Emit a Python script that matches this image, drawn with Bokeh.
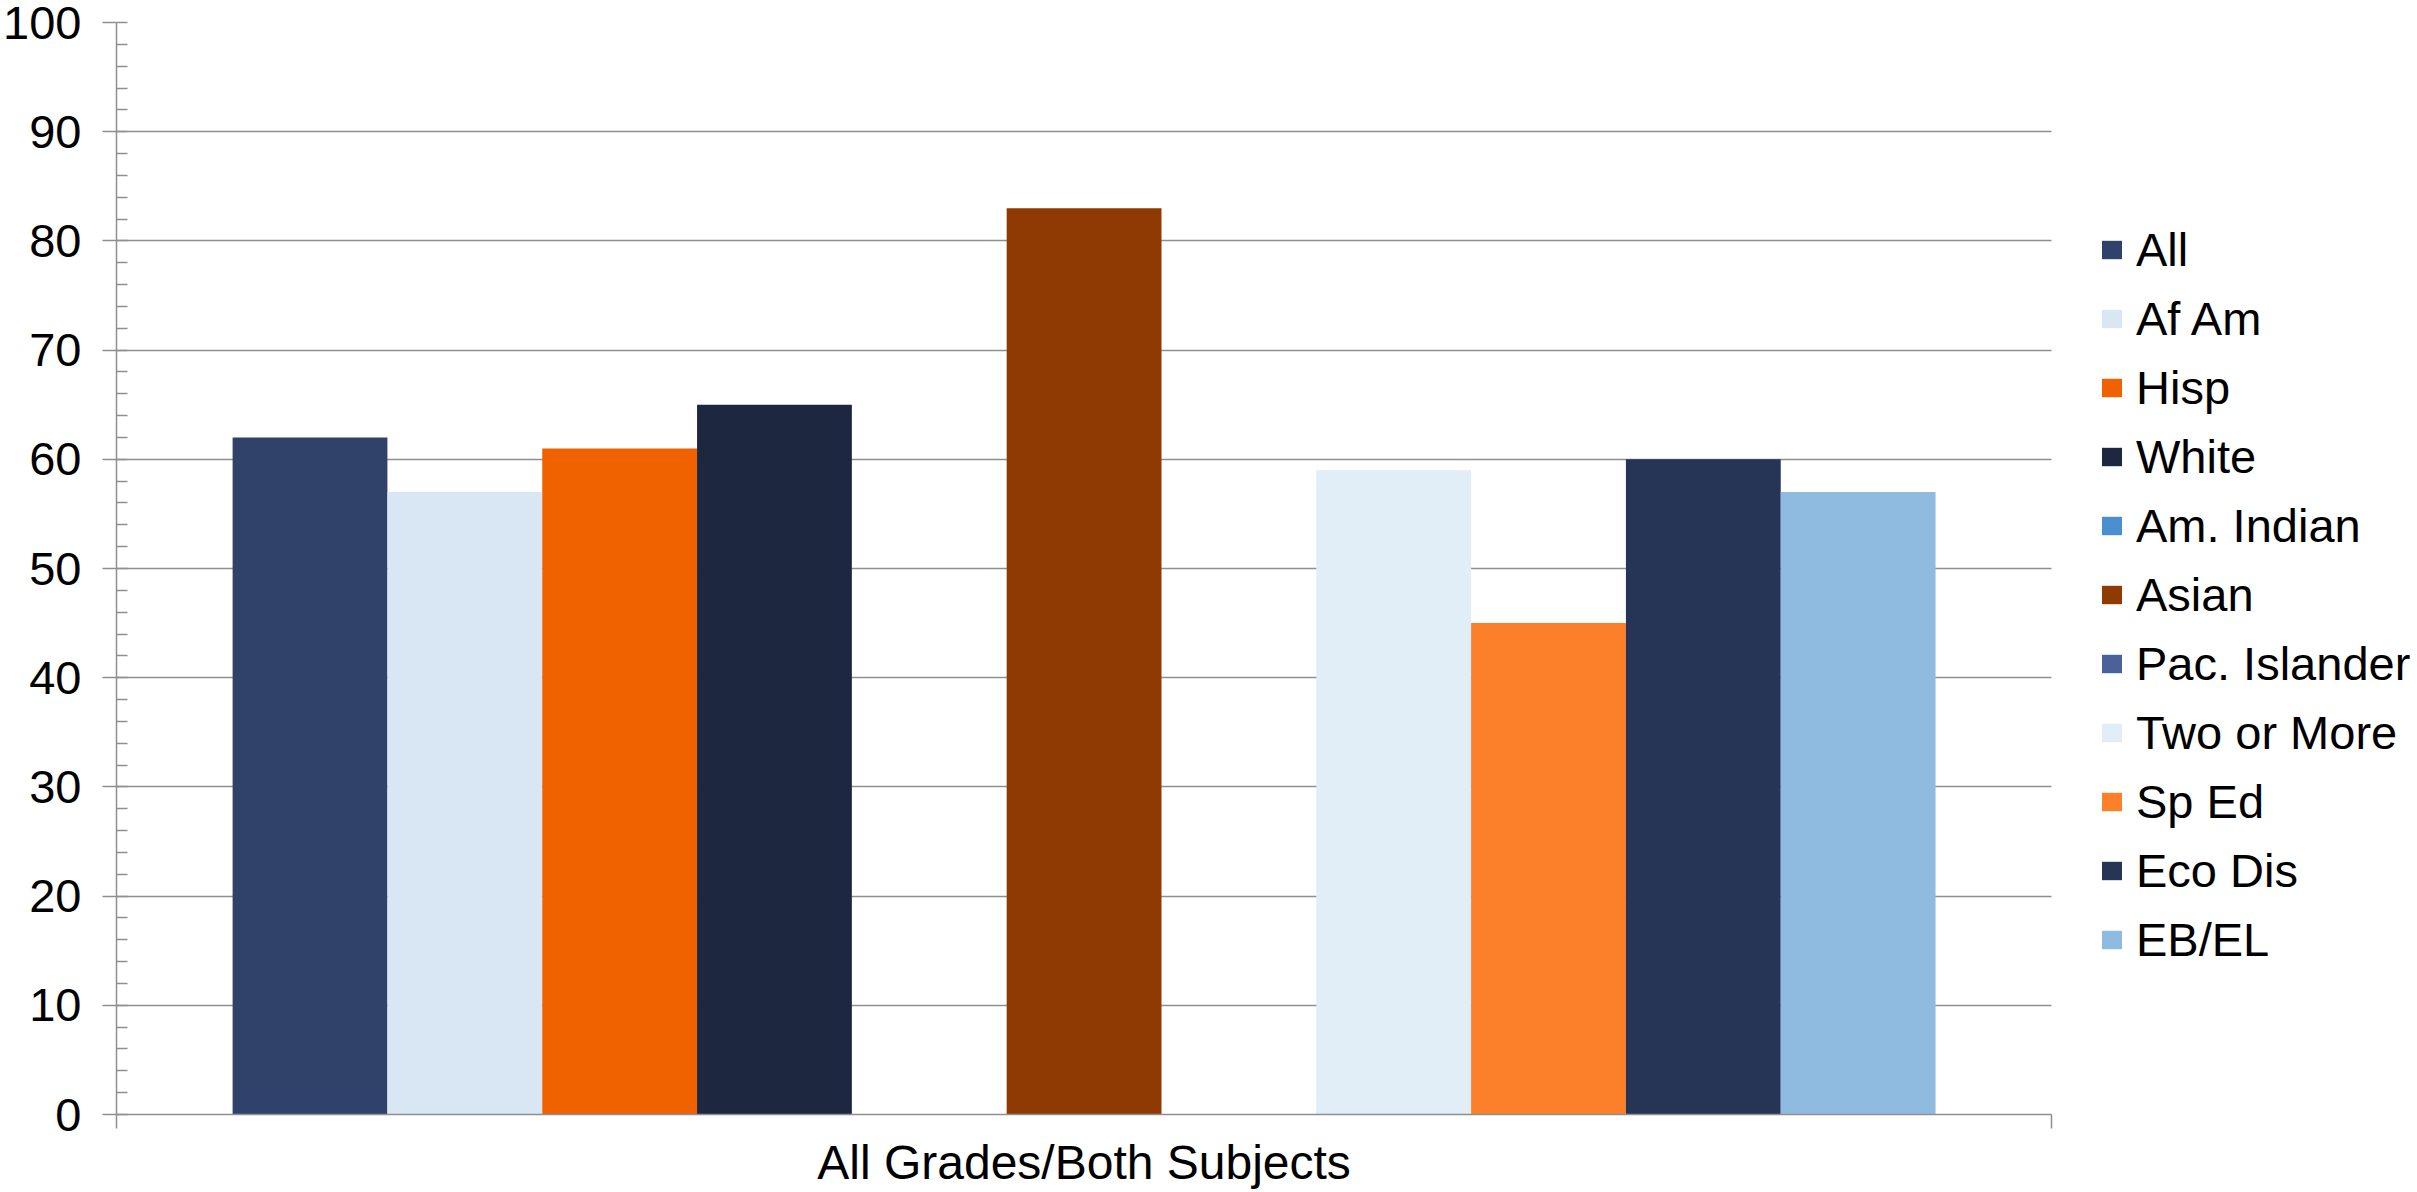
from bokeh.plotting import figure
from bokeh.models import (Range1d, LinearAxis, FixedTicker, Legend, LegendItem,
                          SingleIntervalTicker, ColumnDataSource)
from bokeh.transform import dodge
from bokeh.embed import file_html
from bokeh.resources import INLINE

# ---- data ----
categories = ["All Grades/Both Subjects"]
series = ["All", "Af Am", "Hisp", "White", "Am. Indian", "Asian",
          "Pac. Islander", "Two or More", "Sp Ed", "Eco Dis", "EB/EL"]
values = [62, 57, 61, 65, None, 83, None, 59, 45, 60, 57]
colors = ["#30426A", "#D9E7F4", "#F06200", "#1E2740", "#4A90D0", "#8E3A02",
          "#4A6299", "#E1EDF7", "#FC7F2A", "#263556", "#90BBE0"]
y_min, y_max, y_step = 0, 100, 10
y_ticks = list(range(y_min, y_max + 1, y_step))

FONT = "Liberation Sans"
GRID = "#8f8f8f"

W, H = 2417, 1192
LEFT, TOP, BOTTOM = 115, 22, 78
PLOT_W = 1936            # width of the bar/grid area in px; legend sits to its right

ncat = len(categories)
cat_centers = [i + 0.5 for i in range(ncat)]
x_end = ncat * (W - LEFT) / PLOT_W

p = figure(width=W, height=H,
           x_range=Range1d(0, x_end),
           y_range=Range1d(y_min, y_max),
           output_backend="svg", toolbar_location=None,
           x_axis_location=None,
           min_border_left=LEFT, min_border_right=0,
           min_border_top=TOP, min_border_bottom=BOTTOM)
p.outline_line_color = None
p.background_fill_color = "white"
p.border_fill_color = "white"

# gridlines limited to the category area
grid = p.ygrid[0]
grid.ticker = FixedTicker(ticks=y_ticks)
if "cross_bounds" in grid.properties():
    grid.grid_line_color = GRID
    grid.grid_line_width = 1.5
    grid.cross_bounds = (0, ncat)
else:
    grid.grid_line_color = None
    p.segment(x0=[0] * len(y_ticks), x1=[ncat] * len(y_ticks), y0=y_ticks, y1=y_ticks,
              line_color=GRID, line_width=1.5)
p.xgrid.grid_line_color = None

# bars (Excel-like 150% gap width)
n = len(series)
bw = 1.0 / (n + 1.5)
renderers = []
for i, (s, v, c) in enumerate(zip(series, values, colors)):
    src = ColumnDataSource(dict(x=cat_centers, top=[float("nan") if v is None else v]))
    r = p.vbar(x=dodge("x", (i - (n - 1) / 2) * bw), top="top",
               bottom=0, width=bw, source=src, fill_color=c, line_color=None)
    renderers.append(r)

# y axis
p.yaxis.ticker = SingleIntervalTicker(interval=y_step, num_minor_ticks=5)
p.yaxis.axis_line_color = GRID
p.yaxis.axis_line_width = 1.5
p.yaxis.major_tick_line_color = GRID
p.yaxis.major_tick_line_width = 1.5
p.yaxis.major_tick_out = 14
p.yaxis.major_tick_in = 0
p.yaxis.minor_tick_line_color = GRID
p.yaxis.minor_tick_line_width = 1.5
p.yaxis.minor_tick_in = 11
p.yaxis.minor_tick_out = 0
p.yaxis.major_label_text_font = FONT
p.yaxis.major_label_text_font_size = "47px"
p.yaxis.major_label_text_color = "black"
p.yaxis.major_label_standoff = 21

# x axis: boundary ticks + category label
tick_axis = LinearAxis(ticker=FixedTicker(ticks=list(range(ncat + 1))),
                       bounds=(0, ncat),
                       major_label_overrides={t: "" for t in range(ncat + 1)},
                       axis_line_color=GRID, axis_line_width=1.5,
                       major_tick_line_color=GRID, major_tick_line_width=1.5,
                       major_tick_out=14, major_tick_in=0,
                       minor_tick_line_color=None,
                       major_label_text_font_size="1px", major_label_standoff=0)
p.add_layout(tick_axis, "below")
cat_axis = LinearAxis(ticker=FixedTicker(ticks=cat_centers),
                      bounds=(0, ncat),
                      major_label_overrides={c: name for c, name in zip(cat_centers, categories)},
                      axis_line_color=None, major_tick_line_color=None,
                      minor_tick_line_color=None,
                      major_label_text_font=FONT,
                      major_label_text_font_size="48px",
                      major_label_text_color="black",
                      major_label_standoff=1)
p.add_layout(cat_axis, "below")

legend = Legend(items=[LegendItem(label=s, renderers=[r]) for s, r in zip(series, renderers)],
                location=(1983, 147), orientation="vertical",
                glyph_width=25, glyph_height=23, label_standoff=12,
                label_height=52, spacing=14, padding=0, margin=0,
                border_line_color=None, background_fill_alpha=0,
                label_text_font=FONT, label_text_font_size="47px",
                label_text_color="black")
p.add_layout(legend, "center")

open("out.html", "w").write(file_html(p, INLINE))
